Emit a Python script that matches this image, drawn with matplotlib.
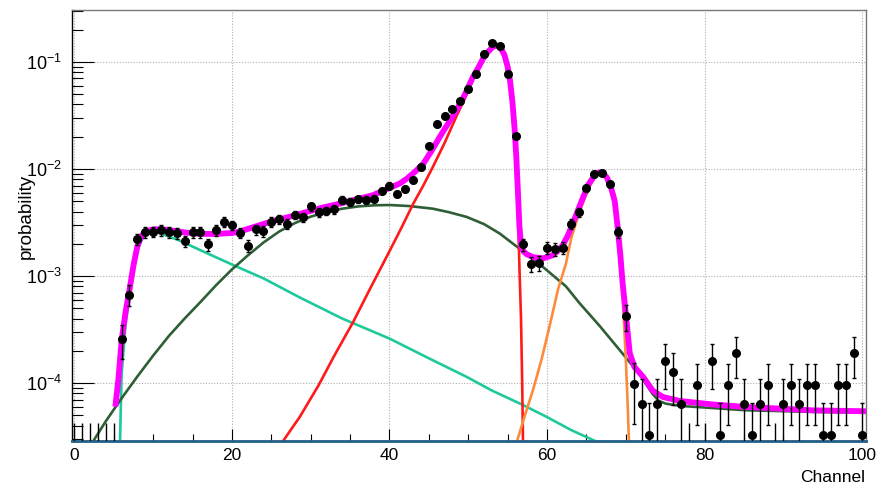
import numpy as np
import matplotlib
matplotlib.use('Agg')
import matplotlib.pyplot as plt
from matplotlib.ticker import LogLocator, MultipleLocator, NullFormatter

plt.rcParams['font.family'] = ['Liberation Sans', 'DejaVu Sans']
plt.rcParams['mathtext.fontset'] = 'custom'
plt.rcParams['mathtext.rm'] = 'Liberation Sans'
plt.rcParams['mathtext.it'] = 'Liberation Sans:italic'

# measured spectrum, one value per channel (0 = empty bin)
channel = list(range(0, 101))
prob = [0, 0, 0, 0, 0, 0, 2.58e-4, 6.7e-4, 2.22e-3, 2.56e-3,
        2.6e-3, 2.67e-3, 2.56e-3, 2.5e-3, 2.12e-3, 2.56e-3, 2.56e-3, 1.98e-3, 2.67e-3, 3.22e-3,
        2.98e-3, 2.54e-3, 1.92e-3, 2.72e-3, 2.62e-3, 3.2e-3, 3.41e-3, 3.09e-3, 3.72e-3, 3.52e-3,
        4.46e-3, 3.94e-3, 4.05e-3, 4.2e-3, 5.13e-3, 4.92e-3, 5.21e-3, 5.13e-3, 5.29e-3, 6.22e-3,
        7.0e-3, 5.85e-3, 6.5e-3, 7.83e-3, 1.04e-2, 1.64e-2, 2.65e-2, 3.11e-2, 3.64e-2, 4.3e-2,
        5.56e-2, 7.67e-2, 0.118, 0.151, 0.14, 7.67e-2, 2.02e-2, 1.98e-3, 1.29e-3, 1.33e-3,
        1.83e-3, 1.78e-3, 1.83e-3, 3.06e-3, 3.94e-3, 6.6e-3, 8.9e-3, 9.24e-3, 7.19e-3, 2.56e-3,
        4.23e-4, 9.7e-5, 6.4e-5, 3.24e-5, 6.4e-5, 1.6e-4, 1.27e-4, 6.4e-5, 0, 9.6e-5,
        0, 1.6e-4, 3.24e-5, 9.6e-5, 1.9e-4, 6.4e-5, 3.24e-5, 6.4e-5, 9.6e-5, 0,
        6.4e-5, 9.6e-5, 6.4e-5, 9.6e-5, 9.6e-5, 3.24e-5, 3.24e-5, 9.6e-5, 9.6e-5, 1.9e-4,
        3.24e-5]
one_count = 3.24e-5      # probability of a single count
empty_bar_top = 4.2e-5   # upper error drawn for empty bins

# fitted curves
total_x = [5.2, 5.6, 6.0, 6.5, 7.0, 7.5, 8.0, 8.5, 9.0, 10.0, 11.0, 12.0, 14.0, 16.0, 18.0, 20.0,
           21.0, 23.0, 25.3, 27.5, 29.5, 31.5, 33.7, 35.8, 37.9, 39.5, 41.3, 42.2, 43.3, 44.3,
           45.4, 46.4, 47.5, 48.5, 49.6, 50.6, 51.3, 51.9, 52.5, 53.1, 53.6, 54.0, 54.6, 55.0,
           55.3, 55.6, 55.9, 56.1, 56.3, 56.5, 56.7, 57.0, 57.4, 58.2, 59.5, 60.7, 61.4, 62.0,
           62.6, 63.1, 64.1, 65.2, 66.2, 66.7, 67.1, 67.6, 68.1, 68.6, 69.0, 69.3, 69.6, 70.05,
           70.5, 71.1, 72.2, 73.4, 74.7, 76.8, 81.0, 85.2, 89.5, 93.7, 100.5]
total_y = [6.0e-5, 1.1e-4, 2.5e-4, 4.6e-4, 7.4e-4, 1.25e-3, 1.9e-3, 2.35e-3, 2.6e-3, 2.72e-3,
           2.74e-3, 2.68e-3, 2.55e-3, 2.47e-3, 2.47e-3, 2.52e-3, 2.6e-3, 2.9e-3, 3.27e-3, 3.6e-3,
           3.96e-3, 4.35e-3, 4.74e-3, 5.2e-3, 5.68e-3, 6.4e-3, 7.3e-3, 8.1e-3, 9.5e-3, 1.12e-2,
           1.5e-2, 2.0e-2, 2.7e-2, 3.54e-2, 5.0e-2, 7.24e-2, 8.9e-2, 0.108, 0.124, 0.138,
           0.142, 0.14, 0.116, 0.09, 0.0674, 0.043, 0.023, 1.3e-2, 6.3e-3, 2.9e-3,
           1.95e-3, 1.7e-3, 1.6e-3, 1.5e-3, 1.46e-3, 1.56e-3, 1.72e-3, 1.94e-3, 2.35e-3, 2.87e-3,
           4.42e-3, 7.05e-3, 9.06e-3, 9.3e-3, 9.2e-3, 8.3e-3, 6.8e-3, 5.0e-3, 2.7e-3, 1.6e-3,
           8.5e-4, 4.1e-4, 1.9e-4, 1.41e-4, 1.14e-4, 8.5e-5, 7.4e-5, 6.8e-5, 6.3e-5, 5.97e-5,
           5.76e-5, 5.55e-5, 5.44e-5]

tail_x = [5.8, 5.9, 6.0, 6.5, 7.0, 7.5, 8.0, 8.5, 9.0, 10.0, 11.0, 12.0, 13.0, 16.0, 20.2, 24.0,
          28.6, 34.0, 40.0, 45.0, 49.8, 53.0, 57.0, 60.0, 63.0, 66.1]
tail_y = [2.87e-5, 6.0e-5, 1.2e-4, 3.6e-4, 6.3e-4, 1.1e-3, 1.7e-3, 2.15e-3, 2.42e-3, 2.58e-3,
          2.5e-3, 2.32e-3, 2.2e-3, 1.74e-3, 1.26e-3, 9.5e-4, 6.3e-4, 4.0e-4, 2.6e-4, 1.7e-4,
          1.14e-4, 8.5e-5, 6.2e-5, 4.8e-5, 3.65e-5, 2.87e-5]

broad_x = [2.45, 4.0, 6.0, 8.0, 10.0, 12.0, 14.0, 16.0, 18.0, 20.0, 22.0, 24.0, 26.0, 28.0,
           30.0, 32.0, 34.0, 36.0, 38.0, 40.0, 42.5, 45.5, 47.5, 49.8, 52.0, 54.0, 56.5, 59.0,
           62.4, 64.1, 66.7, 69.6, 71.7, 72.8, 73.4, 74.2, 75.1, 77.0, 78.9, 85.2, 93.7, 100.5]
broad_y = [2.9e-5, 4.4e-5, 7.2e-5, 1.15e-4, 1.8e-4, 2.75e-4, 4.0e-4, 5.7e-4, 8.2e-4, 1.15e-3,
           1.55e-3, 2.05e-3, 2.6e-3, 3.12e-3, 3.58e-3, 3.95e-3, 4.25e-3, 4.46e-3, 4.57e-3, 4.6e-3,
           4.5e-3, 4.25e-3, 3.95e-3, 3.56e-3, 3.05e-3, 2.49e-3, 1.8e-3, 1.3e-3, 8.0e-4, 5.6e-4,
           3.4e-4, 1.88e-4, 1.22e-4, 9.2e-5, 7.9e-5, 6.8e-5, 6.4e-5, 6.1e-5, 5.97e-5, 5.56e-5,
           5.37e-5, 5.28e-5]

peak1_x = [26.5, 28.6, 31.0, 33.0, 35.4, 37.5, 40.0, 41.5, 43.0, 44.3, 45.5, 47.0, 48.5, 49.6,
           50.6, 51.3, 51.9, 52.5, 53.1, 53.6, 54.0, 54.6, 55.0, 55.3, 55.6, 55.9, 56.1, 56.3,
           56.5, 56.7, 56.85, 56.95]
peak1_y = [2.87e-5, 4.8e-5, 9.5e-5, 1.8e-4, 3.72e-4, 7.5e-4, 1.7e-3, 2.8e-3, 4.7e-3, 7.0e-3,
           1.04e-2, 1.75e-2, 3.1e-2, 4.6e-2, 6.9e-2, 8.6e-2, 0.105, 0.121, 0.135, 0.139,
           0.137, 0.113, 0.087, 0.065, 0.04, 0.021, 1.1e-2, 4.5e-3, 1.2e-3, 4.0e-4,
           1.0e-4, 2.87e-5]

peak2_x = [56.2, 57.2, 58.2, 59.3, 60.3, 61.4, 62.4, 63.1, 64.1, 65.2, 66.2, 66.7, 67.1, 67.6,
           68.1, 68.6, 69.0, 69.3, 69.6, 70.0, 70.25, 70.4]
peak2_y = [2.87e-5, 5.0e-5, 8.5e-5, 1.65e-4, 3.33e-4, 7.5e-4, 1.3e-3, 2.3e-3, 3.9e-3, 6.4e-3,
           8.7e-3, 8.95e-3, 8.9e-3, 7.9e-3, 6.4e-3, 4.6e-3, 2.4e-3, 1.4e-3, 6.5e-4, 1.7e-4,
           6e-5, 2.87e-5]

ymin, ymax = 2.87e-5, 0.304

fig = plt.figure(figsize=(8.91, 4.87), dpi=100)
ax = fig.add_axes([0.0808, 0.0945, 0.8912, 0.8845])

ax.plot(tail_x, tail_y, color='#1ec99b', lw=1.9, zorder=3)
ax.plot(broad_x, broad_y, color='#2f5f36', lw=1.9, zorder=3)
ax.plot(peak1_x, peak1_y, color='#ff1a1a', lw=1.9, zorder=3)
ax.plot(peak2_x, peak2_y, color='#fb8c3c', lw=1.9, zorder=3)
ax.plot(total_x, total_y, color='#ff00ff', lw=4.2, zorder=4, solid_capstyle='butt')
ax.axhline(ymin * 1.01, color='#24618a', lw=2.0, zorder=5, clip_on=False)

ch = np.array(channel, dtype=float)
p = np.array(prob)
full = p > 0
err = np.sqrt(p[full] * one_count)
ax.errorbar(ch[full], p[full], yerr=err, fmt='o', color='black', ms=5.5,
            elinewidth=1.0, capsize=1.6, capthick=1.0, zorder=6)
ax.vlines(ch[~full], ymin, empty_bar_top, color='black', lw=1.0, zorder=6)

ax.set_yscale('log')
ax.set_xlim(-0.3, 100.5)
ax.set_ylim(ymin, ymax)

ax.xaxis.set_major_locator(MultipleLocator(20))
ax.xaxis.set_minor_locator(MultipleLocator(5))
ax.yaxis.set_major_locator(LogLocator(base=10))
ax.yaxis.set_minor_locator(LogLocator(base=10, subs=np.arange(2, 10)))
ax.yaxis.set_minor_formatter(NullFormatter())

ax.tick_params(axis='x', which='major', direction='in', length=9, width=0.8, labelsize=12.5, pad=5)
ax.tick_params(axis='x', which='minor', direction='in', length=5, width=0.8)
ax.tick_params(axis='y', which='major', direction='in', length=16, width=0.8, labelsize=13, pad=7)
ax.tick_params(axis='y', which='minor', direction='in', length=8, width=0.8)

ax.grid(True, which='major', color='#b0b0b0', linestyle=(0, (1, 1.5)), lw=0.8)
for s in ax.spines.values():
    s.set_linewidth(1.0)
ax.spines['top'].set_color('#777777')
ax.spines['right'].set_color('#777777')

fig.text(0.971, 0.004, 'Channel', ha='right', va='bottom', fontsize=12.5)
fig.text(0.030, 0.555, 'probability', ha='center', va='center', rotation=90, fontsize=13.5)

fig.savefig('out.png', dpi=100)
